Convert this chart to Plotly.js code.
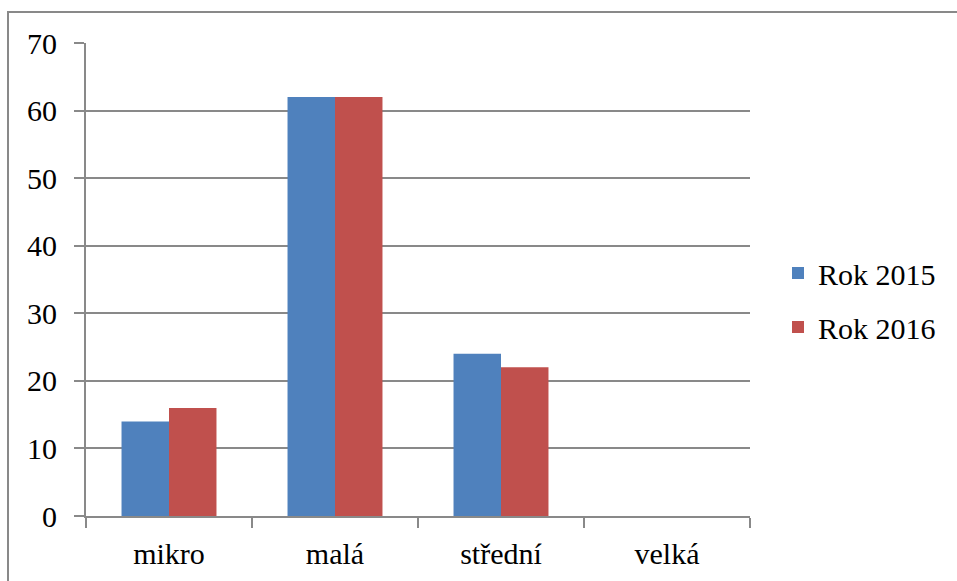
<!DOCTYPE html>
<html>
<head>
<meta charset="utf-8">
<script src="https://cdn.plot.ly/plotly-3.0.1.min.js"></script>
<style>
html,body{margin:0;padding:0;background:#fff;}
#chart{width:957px;height:581px;position:relative;z-index:1;}
#chart text{font-family:"Liberation Serif","Times New Roman","DejaVu Serif",serif !important;}
#warm{position:absolute;left:300px;top:300px;font-family:"Liberation Serif";font-size:30px;color:#fff;z-index:0;}
#dbg{position:absolute;left:0;top:0;width:1px;height:1px;overflow:hidden;color:#fff;font-size:1px;z-index:0;}
</style>
</head>
<body>
<div id="warm">Rok 2015 mikro malá střední velká 0123456789</div>
<div id="chart"></div>
<pre id="dbg"></pre>
<script>
var categories = ["mikro", "malá", "střední", "velká"];
var seriesNames = ["Rok 2015", "Rok 2016"];
var values2015 = [14, 62, 24, 0];
var values2016 = [16, 62, 22, 0];
var yTicks = [0, 10, 20, 30, 40, 50, 60, 70];

var W = 957, H = 581;
var L = 86, R = 750, T = 43, B = 516;
function px(x){ return (x - L) / (R - L); }
function py(y){ return (B - y) / (B - T); }
function mkFont(){ return {family: "Liberation Serif", size: 30, color: "#000"}; }

var data = [
  {type: "bar", name: seriesNames[0], legendgroup: "g1", x: categories, y: values2015,
   marker: {color: "#4F81BD"}},
  {type: "bar", name: seriesNames[1], legendgroup: "g2", x: categories, y: values2016,
   marker: {color: "#C0504D"}}
];

var layout = {
  width: W, height: H,
  margin: {l: L, r: W - R, t: T, b: H - B, pad: 0, autoexpand: false},
  font: mkFont(),
  barmode: "group",
  bargap: 0.428,
  bargroupgap: 0,
  legend: {x: px(778), xanchor: "left", y: py(300), yanchor: "middle",
           font: mkFont(), traceorder: "grouped", tracegroupgap: 12},
  xaxis: {
    type: "category", tickson: "boundaries", ticks: "outside", ticklen: 10,
    tickwidth: 2, tickcolor: "#898989", showline: true, linecolor: "#898989", linewidth: 2,
    showgrid: false, zeroline: false, tickfont: mkFont(), ticklabelstandoff: 10
  },
  yaxis: {
    range: [0, 70], tickvals: yTicks, ticks: "outside", ticklen: 10, tickwidth: 2,
    tickcolor: "#898989", showline: true, linecolor: "#898989", linewidth: 2,
    showgrid: true, gridcolor: "#898989", gridwidth: 2, zeroline: false,
    tickfont: mkFont(), ticklabelstandoff: 11
  },
  shapes: [
    {type: "path", xref: "paper", yref: "paper",
     path: "M " + px(8) + "," + py(600) + " L " + px(8) + "," + py(12) + " L " + px(960) + "," + py(12),
     line: {color: "#898989", width: 2}, layer: "below"}
  ]
};

Plotly.newPlot("chart", data, layout, {displayModeBar: false}).then(function(gd){
  var t = document.querySelector('.ytick text');
  document.getElementById('dbg').textContent = (t ? t.getAttribute('style') : '') + ' ' +
    (document.fonts ? document.fonts.check('30px "Liberation Serif"') : '');
});
</script>
</body>
</html>
